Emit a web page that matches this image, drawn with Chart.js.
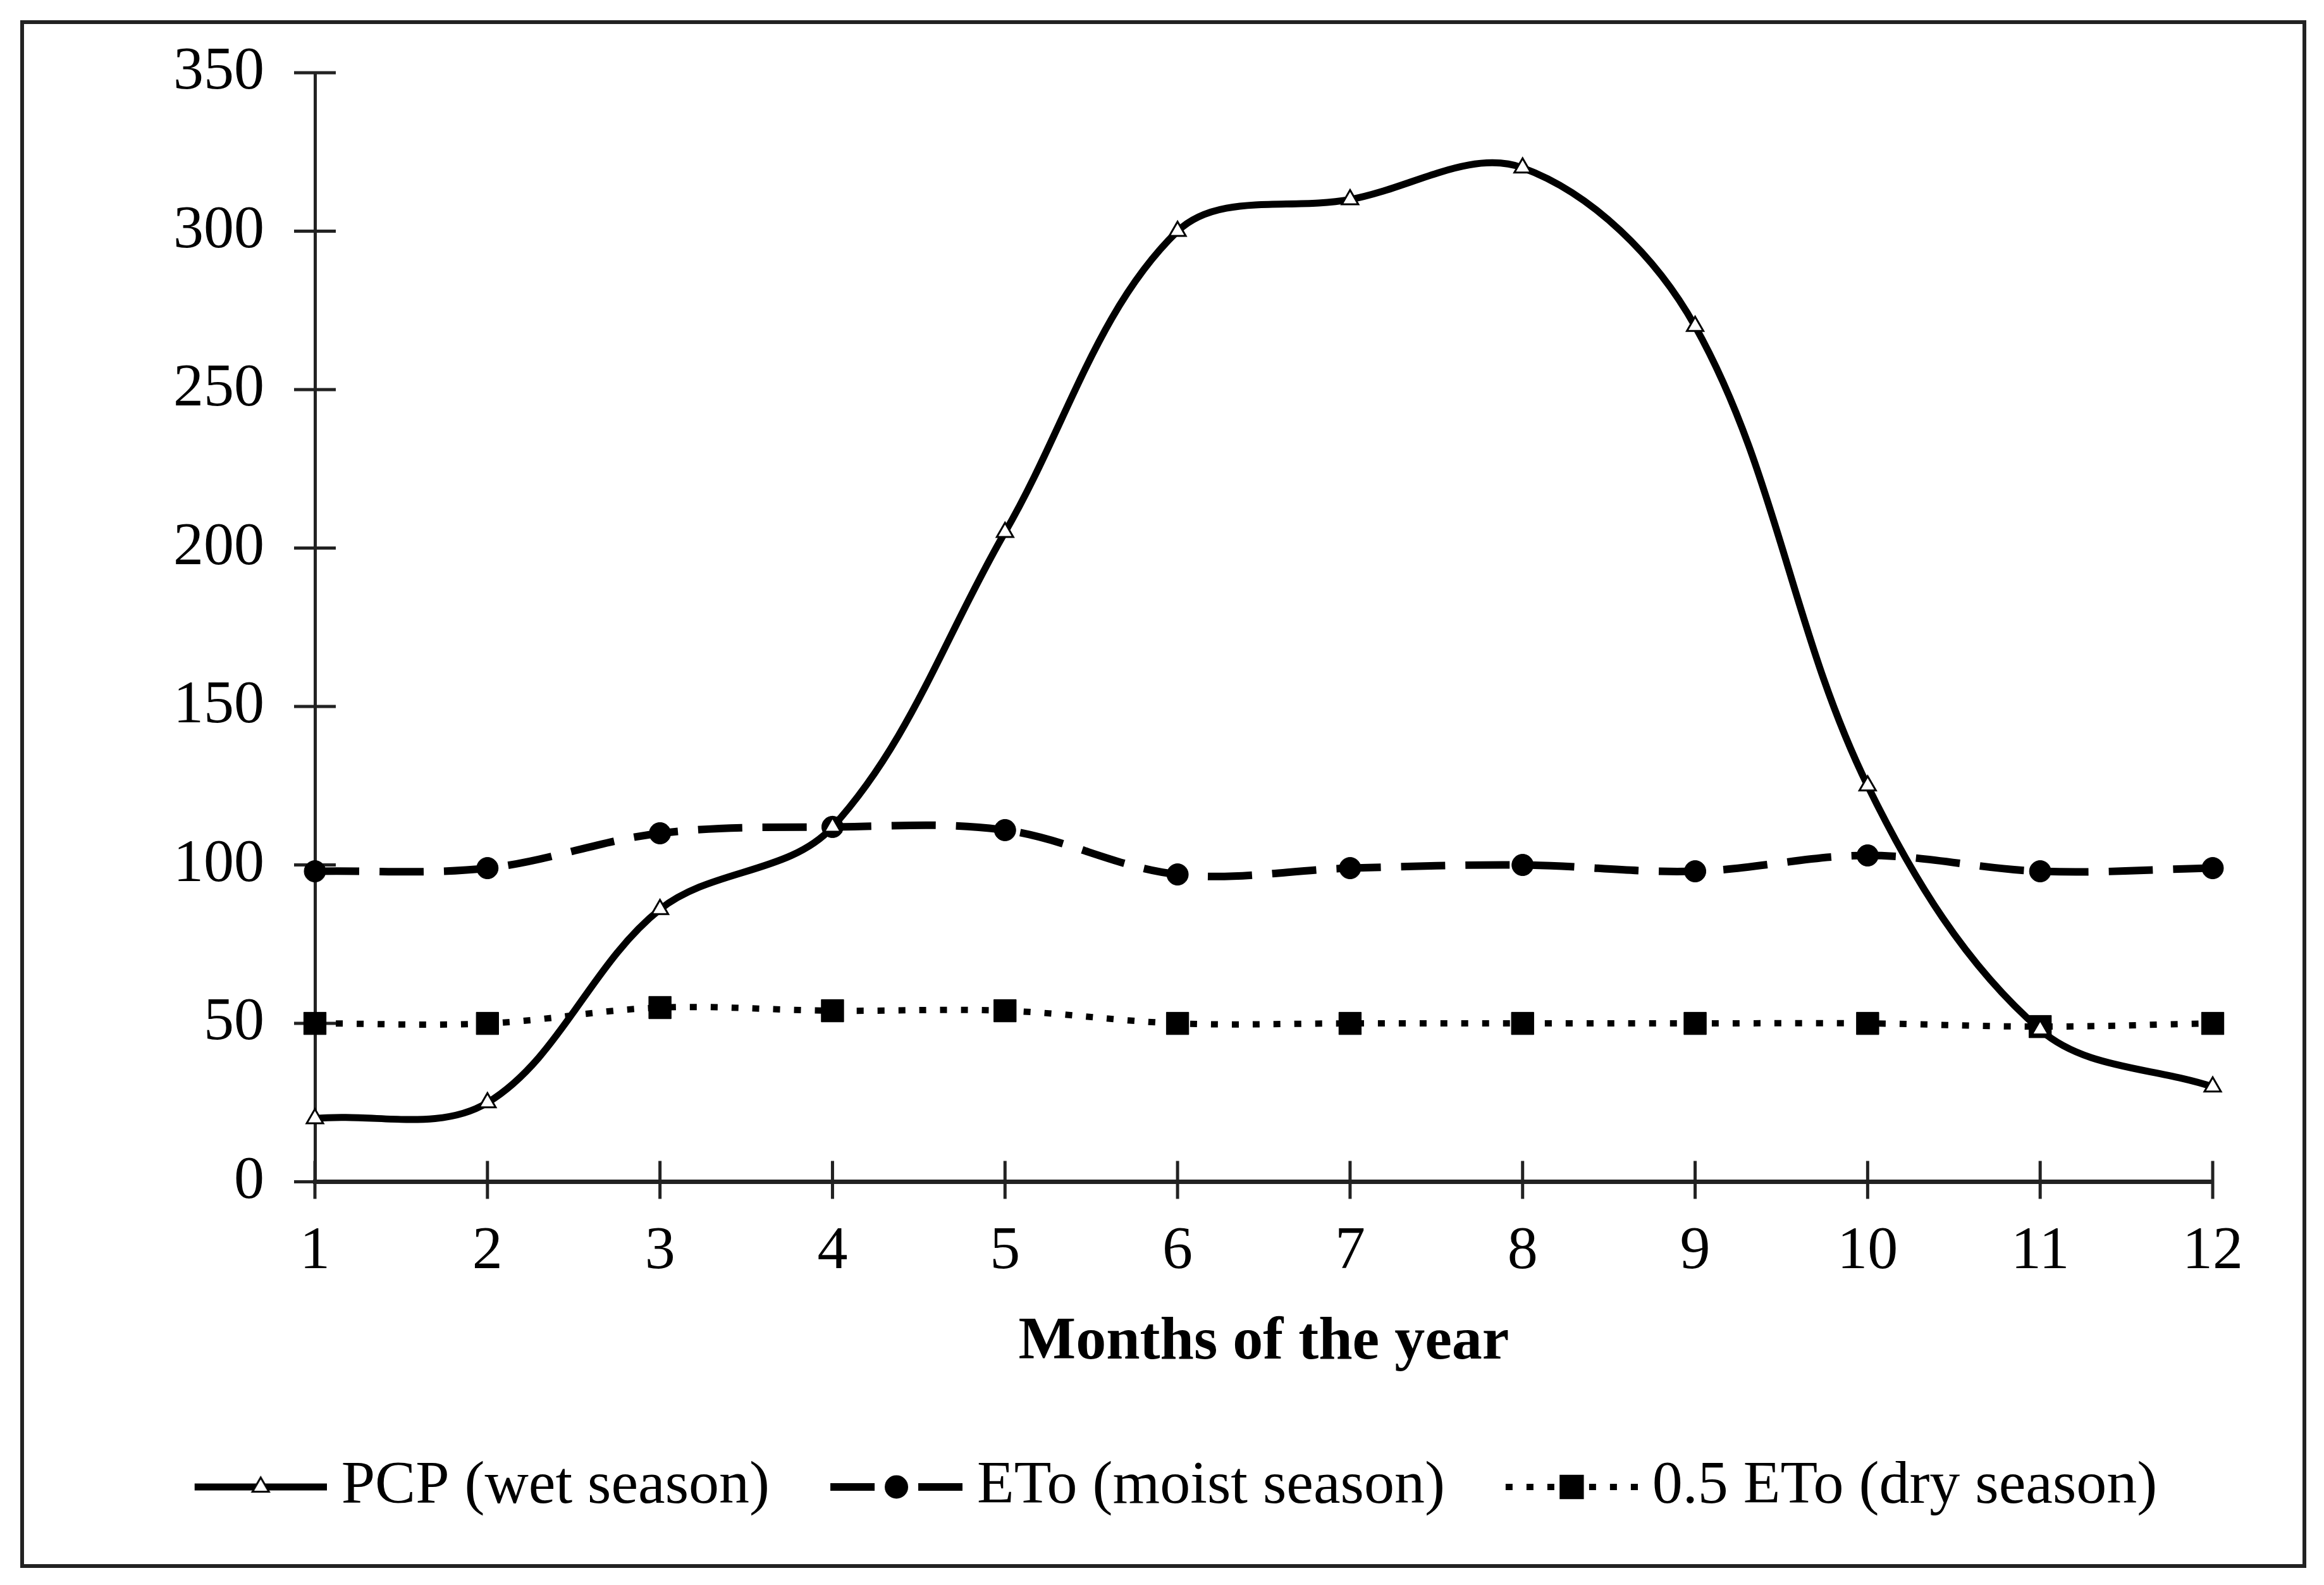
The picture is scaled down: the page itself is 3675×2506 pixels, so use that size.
<!DOCTYPE html>
<html>
<head>
<meta charset="utf-8">
<script src="https://cdn.jsdelivr.net/npm/chart.js@4.4.1/dist/chart.umd.min.js"></script>
<style>
  html, body { margin: 0; padding: 0; background: #fff; }
  #wrap { position: relative; width: 3675px; height: 2506px; }
  #frame { position: absolute; left: 32px; top: 32px; width: 3603px; height: 2435px; border: 6px solid #222; pointer-events: none; }
</style>
</head>
<body>
<div id="wrap">
  <canvas id="chart" width="3675" height="2506"></canvas>
  <div id="frame"></div>
</div>
<script>
// months on the x axis
const months = ['1', '2', '3', '4', '5', '6', '7', '8', '9', '10', '11', '12'];
// series
const pcp = [20, 25, 86, 112, 205, 300, 310, 320, 270, 125, 48, 30];
const eto = [98, 99, 110, 112, 111, 97, 99, 100, 98, 103, 98, 99];
const halfEto = [50, 50, 55, 54, 54, 50, 50, 50, 50, 50, 49, 50];
const yTicks = [0, 50, 100, 150, 200, 250, 300, 350];
const seriesNames = ['PCP (wet season)', 'ETo (moist season)', '0.5 ETo (dry season)'];

Chart.defaults.font.family = '"Liberation Serif", "Times New Roman", serif';
Chart.defaults.font.size = 96;
Chart.defaults.color = '#000';

// legend sample: line with the marker in its middle.
// the image is wider than the legend box so the sample sits close to its text
function legendSymbol(dash, lineWidth, pointStyle, radius, fill) {
    const c = document.createElement('canvas');
    c.width = 260;
    c.height = 70;
    const g = c.getContext('2d');
    const a = 51, b = 260, mid = (a + b) / 2;
    g.strokeStyle = '#000';
    g.lineWidth = lineWidth;
    g.setLineDash(dash);
    g.beginPath();
    g.moveTo(a, 35); g.lineTo(mid, 35);
    g.moveTo(b, 35); g.lineTo(mid, 35);
    g.stroke();
    g.setLineDash([]);
    g.fillStyle = fill;
    g.strokeStyle = '#000';
    g.lineWidth = 3;
    Chart.helpers.drawPoint(g, { pointStyle: pointStyle, radius: radius, borderWidth: 3, rotation: 0 }, mid, 35);
    return c;
}

const symbols = [
    legendSymbol([], 11, 'triangle', 15, '#fff'),
    legendSymbol([70, 32], 12, 'circle', 17, '#000'),
    legendSymbol([11, 22], 10, 'rect', 25, '#000')
];

// ticks that cross the axis lines
const crossTicks = {
    id: 'crossTicks',
    beforeDatasetsDraw(chart) {
        const ctx = chart.ctx;
        const x = chart.scales.x;
        const y = chart.scales.y;
        ctx.save();
        ctx.strokeStyle = '#222';
        ctx.lineWidth = 5;
        ctx.beginPath();
        x.ticks.forEach((t, i) => {
            const px = x.getPixelForTick(i);
            ctx.moveTo(px, x.top - 33);
            ctx.lineTo(px, x.top + 27);
        });
        y.ticks.forEach((t, i) => {
            const py = y.getPixelForTick(i);
            ctx.moveTo(y.right - 33, py);
            ctx.lineTo(y.right + 33, py);
        });
        ctx.stroke();
        ctx.restore();
    }
};

const ctx = document.getElementById('chart').getContext('2d');
new Chart(ctx, {
    type: 'line',
    data: {
        labels: months,
        datasets: [{
            label: seriesNames[0],
            data: pcp,
            borderColor: '#000',
            borderWidth: 11,
            tension: 0.35,
            pointStyle: 'triangle',
            pointRadius: 15,
            pointBackgroundColor: '#fff',
            pointBorderColor: '#000',
            pointBorderWidth: 3,
            clip: false
        }, {
            label: seriesNames[1],
            data: eto,
            borderColor: '#000',
            borderWidth: 12,
            borderDash: [70, 32],
            tension: 0.35,
            pointStyle: 'circle',
            pointRadius: 17,
            pointBackgroundColor: '#000',
            pointBorderColor: '#000',
            pointBorderWidth: 1,
            clip: false
        }, {
            label: seriesNames[2],
            data: halfEto,
            borderColor: '#000',
            borderWidth: 10,
            borderDash: [11, 22],
            tension: 0.35,
            pointStyle: 'rect',
            pointRadius: 25,
            pointBackgroundColor: '#000',
            pointBorderColor: '#000',
            pointBorderWidth: 1,
            clip: false
        }]
    },
    options: {
        responsive: false,
        devicePixelRatio: 1,
        animation: false,
        layout: {
            padding: { left: 194, right: 176, top: 115, bottom: 97 }
        },
        scales: {
            x: {
                offset: false,
                grid: { display: false, drawTicks: false },
                border: { display: true, color: '#222', width: 7 },
                ticks: { padding: 54, color: '#000', autoSkip: false, maxRotation: 0 },
                title: {
                    display: true,
                    text: 'Months of the year',
                    font: { size: 96, weight: 'bold' },
                    color: '#000',
                    padding: { top: -26, bottom: 52 }
                }
            },
            y: {
                min: 0,
                max: 350,
                afterBuildTicks: scale => {
                    scale.ticks = yTicks.map(v => ({ value: v }));
                },
                // extra room left of the labels, so the plot starts where the original does
                afterFit: scale => {
                    scale.width += 80;
                },
                // invisible tick marks only hold the label gap; the plugin draws the real ones
                grid: { display: true, drawOnChartArea: false, drawTicks: true, tickLength: 80, tickColor: 'rgba(0,0,0,0)' },
                border: { display: true, color: '#222', width: 5 },
                ticks: { padding: 0, color: '#000' }
            }
        },
        plugins: {
            legend: {
                position: 'bottom',
                labels: {
                    usePointStyle: true,
                    pointStyleWidth: 210,
                    boxHeight: 60,
                    padding: 70,
                    color: '#000',
                    font: { size: 96 },
                    generateLabels(chart) {
                        const items = Chart.defaults.plugins.legend.labels.generateLabels(chart);
                        items.forEach(it => { it.pointStyle = symbols[it.datasetIndex]; });
                        return items;
                    }
                }
            },
            tooltip: { enabled: false }
        }
    },
    plugins: [crossTicks]
});
</script>
</body>
</html>
